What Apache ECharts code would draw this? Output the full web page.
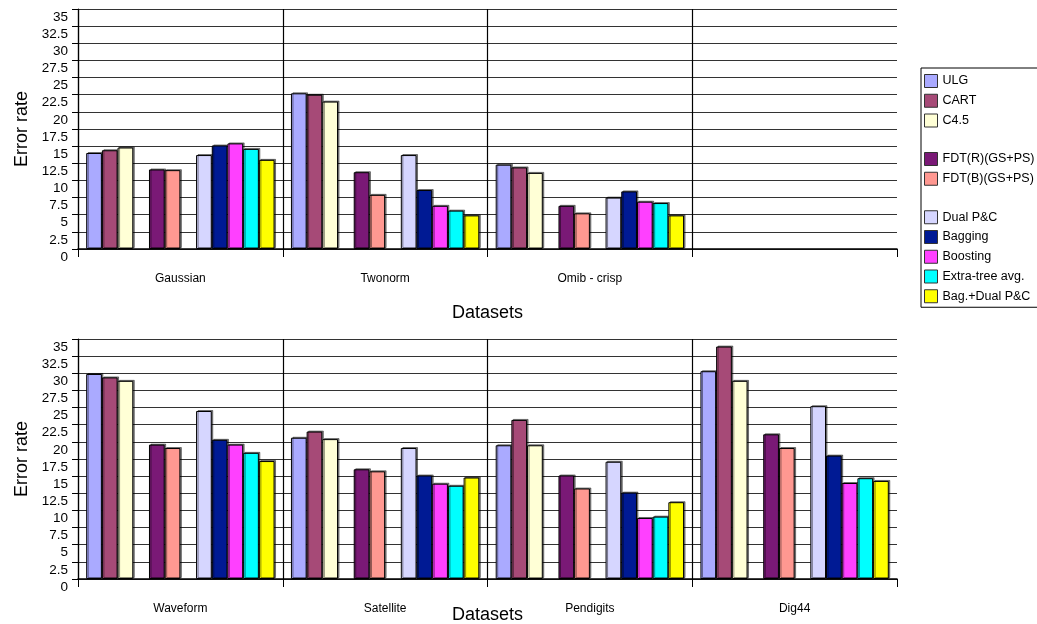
<!DOCTYPE html>
<html>
<head>
<meta charset="utf-8">
<title>Error rate by dataset</title>
<script src="https://cdn.jsdelivr.net/npm/echarts@6/dist/echarts.min.js"></script>
<style>
  html, body { margin: 0; padding: 0; background: #fff; }
  #chart { width: 1037px; height: 624px; }
</style>
</head>
<body>
<div id="chart"></div>
<script>
// Methods in drawing order; the two blank names leave a gap between groups
const methods = ['ULG', 'CART', 'C4.5', ' ', 'FDT(R)(GS+PS)', 'FDT(B)(GS+PS)', '  ',
                 'Dual P&C', 'Bagging', 'Boosting', 'Extra-tree avg.', 'Bag.+Dual P&C'];

// Datasets shown in each panel
const topDatasets = ['Gaussian', 'Twonorm', 'Omib - crisp', ''];
const bottomDatasets = ['Waveform', 'Satellite', 'Pendigits', 'Dig44'];

// Error rates (%) per dataset, one value per real method:
// ULG, CART, C4.5, FDT(R), FDT(B), Dual P&C, Bagging, Boosting, Extra-tree, Bag.+Dual
const gaussian  = [14.0, 14.4, 14.8, 11.6, 11.5, 13.7, 15.1, 15.4, 14.6, 13.0];
const twonorm   = [22.7, 22.5, 21.5, 11.2, 7.9, 13.7, 8.6, 6.3, 5.6, 4.9];
const omibCrisp = [12.3, 11.9, 11.1, 6.3, 5.2, 7.5, 8.4, 6.9, 6.7, 4.9];
const emptySet  = [null, null, null, null, null, null, null, null, null, null];
const waveform  = [29.9, 29.4, 28.9, 19.6, 19.1, 24.5, 20.3, 19.6, 18.4, 17.2];
const satellite = [20.6, 21.5, 20.4, 16.0, 15.7, 19.1, 15.1, 13.9, 13.6, 14.8];
const pendigits = [19.5, 23.2, 19.5, 15.1, 13.2, 17.1, 12.6, 8.9, 9.1, 11.2];
const dig44     = [30.3, 33.9, 28.9, 21.1, 19.1, 25.2, 18.0, 14.0, 14.7, 14.3];

const topValues = [gaussian, twonorm, omibCrisp, emptySet];
const bottomValues = [waveform, satellite, pendigits, dig44];

// Y axis tick labels, every 2.5 from 0 to 35
const errorTicks = ['0', '2.5', '5', '7.5', '10', '12.5', '15', '17.5', '20',
                    '22.5', '25', '27.5', '30', '32.5', '35'];
const tickStep = 2.5;

const colors = {
  'ULG': '#AAAAFF', 'CART': '#A64A77', 'C4.5': '#FFFFD6',
  'FDT(R)(GS+PS)': '#7A1976', 'FDT(B)(GS+PS)': '#FF9891',
  'Dual P&C': '#D6D6FF', 'Bagging': '#001A94', 'Boosting': '#FF40FF',
  'Extra-tree avg.': '#00FFFF', 'Bag.+Dual P&C': '#FFFF00'
};

const sans = "'Liberation Sans', Arial, sans-serif";

function buildSeries(valuesByDataset, axisIndex) {
  const out = [];
  let k = 0;
  methods.forEach(function (name) {
    const isGap = name.trim() === '';
    const col = isGap ? null : k++;
    out.push({
      name: name,
      type: 'bar',
      xAxisIndex: axisIndex,
      yAxisIndex: axisIndex,
      barGap: '0%',
      barCategoryGap: '8%',
      silent: isGap,
      data: isGap ? valuesByDataset.map(function () { return null; })
                  : valuesByDataset.map(function (row) { return row[col]; }),
      itemStyle: isGap ? { color: 'transparent' } : {
        color: colors[name],
        borderColor: '#000',
        borderWidth: 1,
        shadowColor: 'rgba(0,0,0,0.45)',
        shadowOffsetX: 1.5,
        shadowOffsetY: -1
      }
    });
  });
  return out;
}

function xAxisFor(cats, gridIndex, nameGap) {
  return {
    type: 'category',
    gridIndex: gridIndex,
    data: cats,
    boundaryGap: true,
    name: 'Datasets',
    nameLocation: 'middle',
    nameGap: nameGap,
    nameMoveOverlap: false,
    nameTextStyle: { fontFamily: sans, fontSize: 18, color: '#000' },
    axisLine: { show: true, lineStyle: { color: '#000', width: 1.5 } },
    axisTick: { show: true, length: 8, interval: 0, lineStyle: { color: '#000', width: 1 } },
    splitLine: { show: true, interval: 0, showMaxLine: false, lineStyle: { color: '#000', width: 1.2 } },
    axisLabel: { interval: 0, margin: 24, fontFamily: sans, fontSize: 12, color: '#000' }
  };
}

function yAxisFor(gridIndex) {
  return {
    type: 'value',
    gridIndex: gridIndex,
    min: 0,
    max: 35,
    interval: tickStep,
    name: 'Error rate',
    nameLocation: 'middle',
    nameGap: 43,
    nameTextStyle: { fontFamily: sans, fontSize: 18, color: '#000' },
    axisLine: { show: true, lineStyle: { color: '#000', width: 1.2 } },
    axisTick: { show: true, length: 6, lineStyle: { color: '#000', width: 1 } },
    splitLine: { show: true, lineStyle: { color: '#333', width: 1.2 } },
    axisLabel: {
      margin: 10,
      showMinLabel: true,
      showMaxLabel: true,
      fontFamily: sans,
      fontSize: 13.5,
      color: '#000',
      verticalAlign: 'top',
      lineHeight: 16,
      formatter: function (v) { return errorTicks[Math.round(v / tickStep)]; }
    }
  };
}

const legendData = methods.map(function (name) {
  return name.trim() === '' ? { name: name, icon: 'none' } : { name: name, icon: 'rect' };
});

const chart = echarts.init(document.getElementById('chart'), null, { renderer: 'canvas' });
chart.setOption({
  animation: false,
  backgroundColor: '#fff',
  grid: [
    { left: 78, top: 9, width: 819, height: 240, outerBoundsMode: 'none' },
    { left: 78, top: 339, width: 819, height: 240, outerBoundsMode: 'none' }
  ],
  legend: {
    orient: 'vertical',
    left: 921,
    top: 68,
    padding: [6, 80, 4, 3],
    itemWidth: 13,
    itemHeight: 13,
    itemGap: 5.75,
    borderColor: '#000',
    borderWidth: 1,
    selectedMode: false,
    data: legendData,
    itemStyle: { borderColor: '#333', borderWidth: 1, shadowColor: 'transparent', shadowBlur: 0, shadowOffsetX: 0, shadowOffsetY: 0 },
    textStyle: { fontFamily: sans, fontSize: 12.5, color: '#000' }
  },
  xAxis: [xAxisFor(topDatasets, 0, 55), xAxisFor(bottomDatasets, 1, 27)],
  yAxis: [yAxisFor(0), yAxisFor(1)],
  series: buildSeries(topValues, 0).concat(buildSeries(bottomValues, 1))
});
</script>
</body>
</html>
